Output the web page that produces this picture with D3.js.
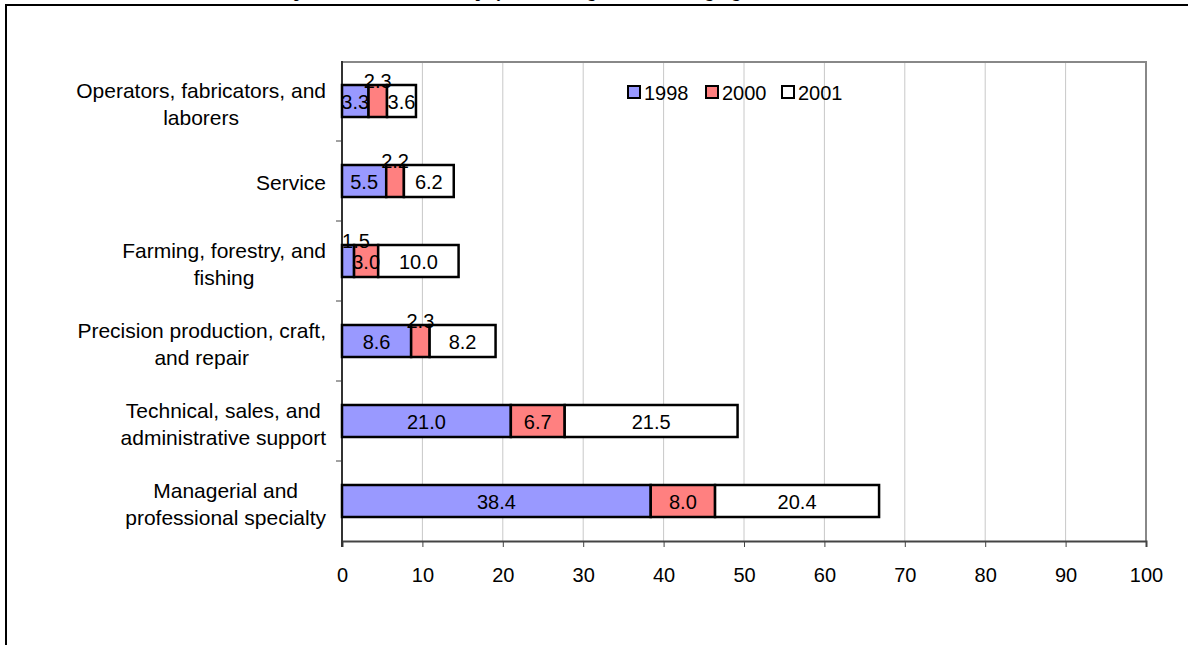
<!DOCTYPE html>
<html><head><meta charset="utf-8">
<script src="https://cdn.jsdelivr.net/npm/d3@7"></script>
<style>html,body{margin:0;padding:0;background:#fff;overflow:hidden}</style>
</head><body>
<svg id="c" width="1188" height="645"></svg>
<script>
const categories = [
  ["Operators, fabricators, and","laborers"],
  ["Service"],
  ["Farming, forestry, and","fishing"],
  ["Precision production, craft,","and repair"],
  ["Technical, sales, and","administrative support"],
  ["Managerial and","professional specialty"]
];
const seriesNames = ["1998","2000","2001"];
const v1998 = [3.3, 5.5, 1.5, 8.6, 21.0, 38.4];
const v2000 = [2.3, 2.2, 3.0, 2.3, 6.7, 8.0];
const v2001 = [3.6, 6.2, 10.0, 8.2, 21.5, 20.4];
const xTicks = [0,10,20,30,40,50,60,70,80,90,100];
const colors = ["#9999FF","#FF8080","#FFFFFF"];
const titleText = "Occupations as a Percent of Employees Receiving Formal Training, Age 25 and Over, 1998-2001";

const svg = d3.select("#c");
const font = "'Liberation Sans', Arial, sans-serif";
const L = 342, R = 1146, T = 61, B = 541;
const x = d3.scaleLinear().domain([0,100]).range([L,R]);
const y = d3.scaleBand().domain(d3.range(categories.length)).range([T,B]).paddingInner(0.6).paddingOuter(0.3);

// title (mostly cut off above the frame)
svg.append("text").attr("x",585).attr("y",-3).attr("text-anchor","middle")
  .attr("font-family","'Liberation Serif', 'Times New Roman', serif").attr("font-weight","bold")
  .attr("font-size",16).text(titleText);

// outer frame
svg.append("rect").attr("x",6).attr("y",5).attr("width",1400).attr("height",800)
  .attr("fill","none").attr("stroke","#000").attr("stroke-width",2);

// gridlines
svg.append("g").selectAll("line").data(xTicks.slice(1)).join("line")
  .attr("x1",d=>x(d)).attr("x2",d=>x(d)).attr("y1",T).attr("y2",B)
  .attr("stroke","#c8c8c8").attr("stroke-width",1);

// plot border top/right
svg.append("path").attr("d",`M${L},${T+1}H${R}V${B}`).attr("fill","none").attr("stroke","#888").attr("stroke-width",2);

// x axis
const xAxis = d3.axisBottom(x).tickValues(xTicks).tickSize(6).tickFormat(d3.format("d"));
const gx = svg.append("g").attr("transform",`translate(0,${B})`).call(xAxis);
gx.select(".domain").attr("stroke","#444").attr("stroke-width",2);
gx.selectAll(".tick line").attr("stroke","#444");
gx.selectAll("text").attr("font-family",font).attr("font-size",20).attr("fill","#000")
  .attr("y",41).attr("dy",0);

// y axis ticks (between categories)
const yTickPos = d3.range(1,categories.length).map(i=>T+i*y.step());
svg.append("g").selectAll("line").data(yTickPos).join("line")
  .attr("x1",L-6).attr("x2",L).attr("y1",d=>d).attr("y2",d=>d).attr("stroke","#444");
svg.append("line").attr("x1",L).attr("x2",L).attr("y1",T).attr("y2",B+6).attr("stroke","#333").attr("stroke-width",2);

// stacked data
const rows = categories.map((c,i)=>({i, v:[v1998[i],v2000[i],v2001[i]]}));
const stack = [];
rows.forEach(r=>{let acc=0; r.v.forEach((val,s)=>{stack.push({i:r.i,s,x0:acc,x1:acc+val,val}); acc+=val;});});

svg.append("g").selectAll("rect").data(stack).join("rect")
  .attr("x",d=>x(d.x0)).attr("width",d=>x(d.x1)-x(d.x0))
  .attr("y",d=>y(d.i)).attr("height",y.bandwidth())
  .attr("fill",d=>colors[d.s]).attr("stroke","#000").attr("stroke-width",2.5);

// data labels
svg.append("g").selectAll("text").data(stack).join("text")
  .attr("font-family",font).attr("font-size",20).attr("text-anchor","middle").attr("fill","#000")
  .attr("x",d=>{const cx=(x(d.x0)+x(d.x1))/2; return d.val<2.5? Math.max(cx, L+14): cx;})
  .attr("y",d=>d.val<2.5? y(d.i)+3 : y(d.i)+y.bandwidth()/2+7.5)
  .text(d=>d3.format(".1f")(d.val));

// category labels
const lg = svg.append("g");
categories.forEach((lines,i)=>{
  const c = y(i)+y.bandwidth()/2;
  const g = lg.append("g");
  const texts = lines.map((ln,k)=>g.append("text").attr("font-family",font).attr("font-size",21)
    .attr("text-anchor","middle").attr("fill","#000").text(ln));
  const w = d3.max(texts,t=>t.node().getComputedTextLength());
  const cx = 326 - w/2;
  if(lines.length===1){ texts[0].attr("x",cx).attr("y",c+9); }
  else { texts[0].attr("x",cx).attr("y",c-3); texts[1].attr("x",cx).attr("y",c+24); }
});

// legend
const legX = [628,706,782];
const leg = svg.append("g");
seriesNames.forEach((n,s)=>{
  leg.append("rect").attr("x",legX[s]).attr("y",86).attr("width",12).attr("height",12)
    .attr("fill",colors[s]).attr("stroke","#000").attr("stroke-width",2);
  leg.append("text").attr("x",legX[s]+16).attr("y",100).attr("font-family",font).attr("font-size",20).text(n);
});
</script>
</body></html>
